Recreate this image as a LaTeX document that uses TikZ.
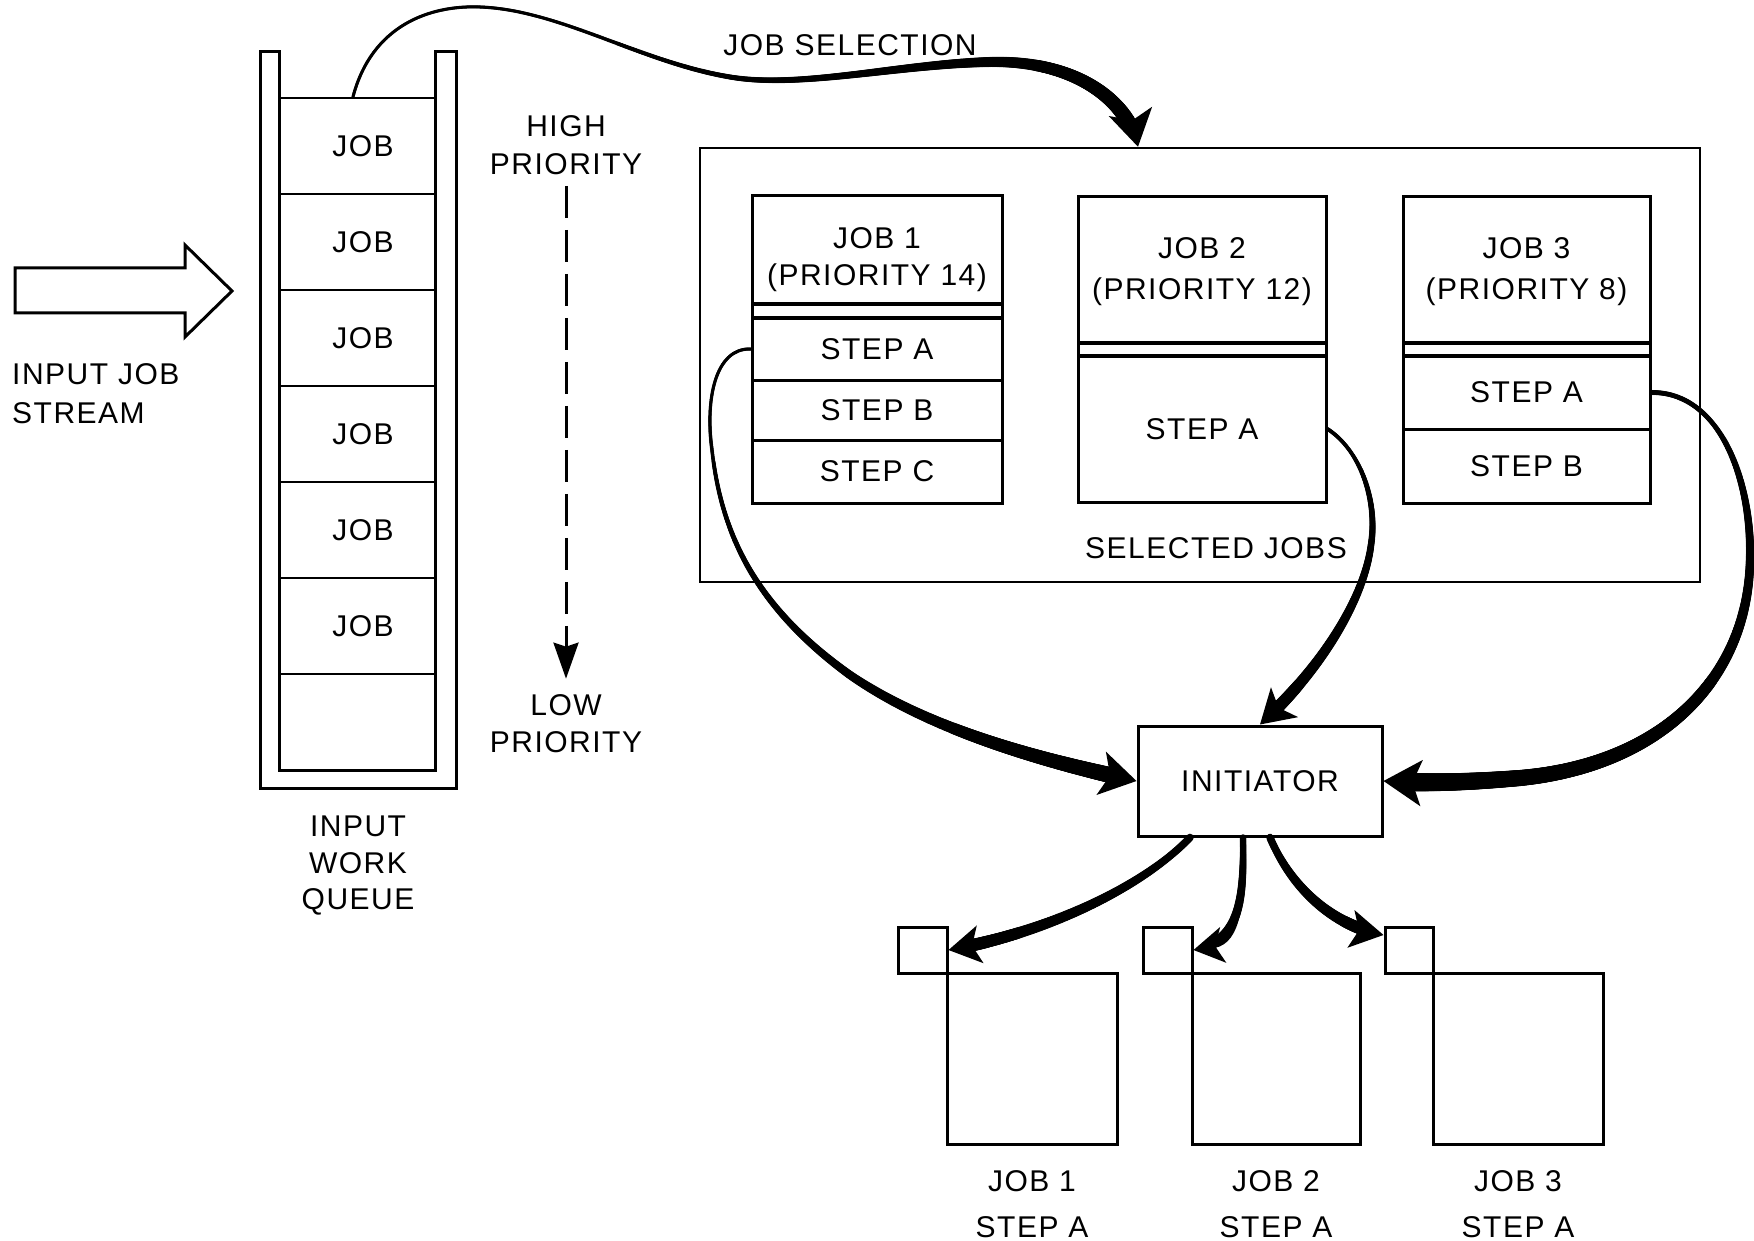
\documentclass[tikz,border=0pt]{standalone}
\usepackage{fontspec}
\setmainfont{Liberation Sans}[LetterSpace=5]
\usetikzlibrary{arrows.meta,decorations.markings,calc}
\tikzset{
  lbl/.style={font=\fontsize{30}{36}\selectfont, align=center, inner sep=0pt},
  boxline/.style={draw, line width=3pt, inner sep=0pt, font=\fontsize{30}{36}\selectfont},
  cell/.style={boxline, line width=2.5pt, minimum width=156pt, minimum height=96pt},
  wall/.style={line width=3pt, line join=miter},
  flow/.style={line width=3pt, line cap=round},
  bighead/.style n args={3}{-{Stealth[length=#1pt,width=#2pt,inset=#3pt]}},
  % widening stroke: start width, end width, stop distance before the tip, exponent
  taper/.style n args={4}{postaction={decorate,decoration={markings,
      mark=between positions 0 and 1 step 1pt with {%
        \pgfmathsetmacro\tpd{\pgfkeysvalueof{/pgf/decoration/mark info/distance from start}}%
        \pgfmathsetmacro\tpl{\pgfdecoratedpathlength}%
        \pgfmathsetmacro\tpk{\tpl-\tpd-#3}%
        \ifdim\tpk pt>0pt
          \pgfmathsetmacro\tpf{max(\tpd/\tpl,0.1)}%
          \pgfmathsetlengthmacro\tpr{0.5*(#1+(#2-#1)*pow(\tpf,#4))}%
          \fill (0,0) circle[radius=\tpr];
        \fi}}}},
}
\begin{document}
\begin{tikzpicture}[x=1pt,y=-1pt]
\useasboundingbox (0,0) rectangle (1754,1241);

% input job stream
\draw[wall] (15,268) -- (185,268) -- (185,245) -- (232,291) -- (185,337) -- (185,313) -- (15,313) -- cycle;
\node[lbl, align=left, anchor=west, font=\fontsize{30}{39}\selectfont] (stream) at (12,394) {INPUT JOB\\STREAM};

% input work queue
\draw[wall] (260,52) -- (260,788) -- (456,788) -- (456,52) -- (435,52) -- (435,770) -- (279,770) -- (279,52) -- cycle;
\foreach \i/\t in {1/JOB,2/JOB,3/JOB,4/JOB,5/JOB,6/JOB,7/{}}
  \node[cell] (q\i) at (357,{50+96*\i}) {\hspace*{12pt}\t};
\node[lbl, font=\fontsize{30}{36.5}\selectfont] (qlabel) at (358,866) {INPUT\\WORK\\QUEUE};

% priority scale
\node[lbl, font=\fontsize{30}{38}\selectfont] (hi) at (566,145) {HIGH\\PRIORITY};
\node[lbl, font=\fontsize{30}{37}\selectfont] (lo) at (566,724) {LOW\\PRIORITY};
\draw[line width=3pt, dash pattern=on 32pt off 12pt, shorten <=11pt, shorten >=16pt,
      -{Stealth[length=36pt,width=25pt,inset=4pt]}] (hi.south) -- (lo.north);

% selected jobs
\node[boxline, line width=2.5pt, minimum width=1000pt, minimum height=434pt] (sel) at (1200,365) {};
\node[lbl] (seltitle) at (1216,548) {SELECTED JOBS};
\node[lbl] (seltext) at (850,45) {JOB SELECTION};

% job 1
\node[boxline, minimum width=250pt, minimum height=307pt] (j1) at (877,349.5) {};
\node[lbl, font=\fontsize{30}{37}\selectfont] (j1t) at (877,260) {JOB 1\\(PRIORITY 14)};
\draw[line width=3.5pt] (752,304) -- (1002,304) (752,318) -- (1002,318);
\node[boxline, minimum width=250pt, minimum height=62pt] (j1a) at (877,349) {STEP A};
\node[boxline, minimum width=250pt, minimum height=60pt] (j1b) at (877,410) {STEP B};
\node[boxline, minimum width=250pt, minimum height=63pt] (j1c) at (877,471.5) {STEP C};

% job 2
\node[boxline, minimum width=248pt, minimum height=305pt] (j2) at (1202,349.5) {};
\node[lbl, font=\fontsize{30}{41}\selectfont] (j2t) at (1202,272) {JOB 2\\(PRIORITY 12)};
\draw[line width=3.5pt] (1078,343) -- (1326,343) (1078,356) -- (1326,356);
\node[boxline, minimum width=248pt, minimum height=146pt] (j2a) at (1202,429) {STEP A};

% job 3
\node[boxline, minimum width=247pt, minimum height=306pt] (j3) at (1526.5,350) {};
\node[lbl, font=\fontsize{30}{41}\selectfont] (j3t) at (1526.5,272) {JOB 3\\(PRIORITY 8)};
\draw[line width=3.5pt] (1403,343) -- (1650,343) (1403,356) -- (1650,356);
\node[boxline, minimum width=247pt, minimum height=73pt] (j3a) at (1526.5,392.5) {STEP A};
\node[boxline, minimum width=247pt, minimum height=74pt] (j3b) at (1526.5,466) {STEP B};

% initiator
\node[boxline, minimum width=244pt, minimum height=110pt] (init) at (1260,781) {INITIATOR};

% running job steps
\node[boxline, minimum width=49pt, minimum height=46pt] (s1) at (922.5,950) {};
\node[boxline, minimum width=170pt, minimum height=171pt] (b1) at (1032,1058.5) {};
\node[boxline, minimum width=49pt, minimum height=46pt] (s2) at (1167.5,950) {};
\node[boxline, minimum width=168pt, minimum height=171pt] (b2) at (1276,1058.5) {};
\node[boxline, minimum width=48pt, minimum height=46pt] (s3) at (1409,950) {};
\node[boxline, minimum width=170pt, minimum height=171pt] (b3) at (1518,1058.5) {};
\node[lbl, font=\fontsize{30}{46}\selectfont] (l1) at (1032,1204) {JOB 1\\STEP A};
\node[lbl, font=\fontsize{30}{46}\selectfont] (l2) at (1276,1204) {JOB 2\\STEP A};
\node[lbl, font=\fontsize{30}{46}\selectfont] (l3) at (1518,1204) {JOB 3\\STEP A};

% job selection
\draw[flow, taper={3}{16}{22}{2.5}, bighead={36}{44}{9}]
  ([xshift=-4pt]q1.north) .. controls (372,25) and (430,5) .. (480,7)
  .. controls (560,10) and (640,62) .. (730,77)
  .. controls (800,89) and (900,64) .. (990,62)
  .. controls (1075,60) and (1128,100) .. ([xshift=-62pt]sel.north);

% steps handed to the initiator
\draw[flow, taper={3}{17}{22}{1.6}, bighead={36}{44}{9}]
  (j1a.west) .. controls (715,348) and (705,400) .. (712,450)
  .. controls (722,540) and (760,610) .. (850,675)
  .. controls (930,730) and (1040,760) .. (init.west);
\draw[flow, taper={3}{13}{20}{1}, bighead={33}{40}{8}]
  (j2a.east) .. controls (1360,450) and (1378,500) .. (1371,545)
  .. controls (1364,600) and (1320,670) .. (init.north);
\draw[flow, taper={3}{19}{24}{0.9}, bighead={38}{46}{9}]
  (j3a.east) .. controls (1720,392) and (1752,480) .. (1750,560)
  .. controls (1748,680) and (1660,765) .. (1520,778)
  .. controls (1460,783) and (1420,783) .. (init.east);

% initiator starts the steps
\draw[flow, taper={7}{13}{18}{1}, bighead={32}{38}{8}]
  ([xshift=-70pt]init.south) .. controls (1150,880) and (1060,930) .. (s1.east);
\draw[flow, taper={6}{11}{16}{1}, bighead={30}{36}{8}]
  ([xshift=-17pt]init.south) .. controls (1244,900) and (1240,942) .. (s2.east);
\draw[flow, taper={7}{13}{18}{1}, bighead={33}{38}{8}]
  ([xshift=10pt]init.south) .. controls (1290,885) and (1330,925) .. ([yshift=15pt]s3.west);
\end{tikzpicture}
\end{document}
